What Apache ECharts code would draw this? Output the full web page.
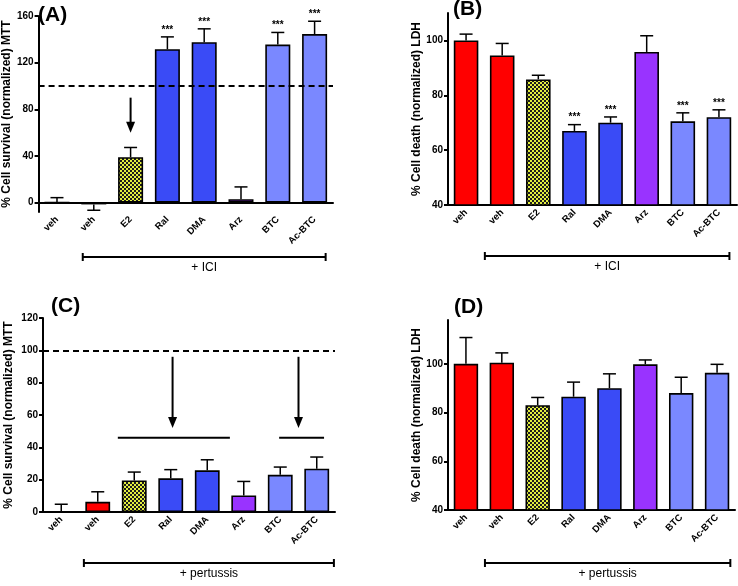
<!DOCTYPE html>
<html>
<head>
<meta charset="utf-8">
<script src="https://cdn.jsdelivr.net/npm/echarts@6/dist/echarts.min.js"></script>
<style>
  html, body { margin: 0; padding: 0; background: #fff; }
  #chart { width: 738px; height: 586px; }
</style>
</head>
<body>
<div id="chart"></div>
<script>
// ---- data ----
const categories = ["veh", "veh", "E2", "Ral", "DMA", "Arz", "BTC", "Ac-BTC"];

// (A) MTT + ICI
const meanA = [0, -1.5, 39, 131.5, 137.5, 3, 135.5, 144.5];
const semA = [4.3, 5, 8.3, 10.6, 11.5, 10.5, 10.4, 11];
const starsA = ["", "", "", "***", "***", "", "***", "***"];
const ticksA = [0, 40, 80, 120, 160];

// (B) LDH + ICI
const meanB = [100, 94.5, 85.8, 67, 70, 95.8, 70.5, 72];
const semB = [2.3, 4.4, 1.5, 2.3, 2.1, 5.9, 3.1, 2.7];
const starsB = ["", "", "", "***", "***", "", "***", "***"];
const ticksB = [40, 60, 80, 100];

// (C) MTT + pertussis
const meanC = [0, 6.3, 19.5, 20.8, 25.8, 10.2, 23, 26.8];
const semC = [4.8, 6.2, 5.2, 5.4, 6.5, 8.7, 4.8, 7.2];
const starsC = ["", "", "", "", "", "", "", ""];
const ticksC = [0, 20, 40, 60, 80, 100, 120];

// (D) LDH + pertussis
const meanD = [100, 100.5, 83, 86.5, 90, 99.8, 88, 96.3];
const semD = [10.8, 4, 3.2, 6, 5.9, 1.8, 6.5, 3.5];
const starsD = ["", "", "", "", "", "", "", ""];
const ticksD = [40, 60, 80, 100];

// annotations (x in category units, y in data units)
const arrowsA = [[2, 90, 60]];
const arrowsC = [[3.05, 96, 52], [6.5, 96, 52]];
const linesC = [[1.55, 4.62, 46], [5.97, 7.2, 46]];

const FONT = "Liberation Sans, Arial, sans-serif";

// checkered fill used for E2
function checker() {
  const c = document.createElement("canvas");
  c.width = 4;
  c.height = 4;
  const ctx = c.getContext("2d");
  ctx.fillStyle = "#e2ee40";
  ctx.fillRect(0, 0, 4, 4);
  ctx.fillStyle = "#1c1c1c";
  ctx.fillRect(0, 0, 2, 2);
  ctx.fillRect(2, 2, 2, 2);
  return { image: c, repeat: "repeat" };
}
const barColors = ["#ff0000", "#ff0000", checker(), "#3a4bf6", "#3a4bf6", "#9933ff", "#7a88ff", "#7a88ff"];

const panels = [
  {
    label: "(A)", labelPos: [38, 5],
    mean: meanA, sem: semA, stars: starsA, ticks: ticksA, min: -8, max: 160,
    yName: "% Cell survival (normalized) MTT", nameGap: 23,
    grid: { left: 34, top: 16, width: 299, height: 196 },
    refLine: 100, arrows: arrowsA, lines: [],
    bracket: { from: 0.7, to: 7.3, gap: 45, text: "+ ICI" }
  },
  {
    label: "(B)", labelPos: [453, -1],
    mean: meanB, sem: semB, stars: starsB, ticks: ticksB, min: 40, max: 110,
    yName: "% Cell death (normalized) LDH", nameGap: 25,
    grid: { left: 448, top: 13, width: 289, height: 192 },
    refLine: null, arrows: [], lines: [],
    bracket: { from: 0.52, to: 7.29, gap: 51, text: "+ ICI" }
  },
  {
    label: "(C)", labelPos: [51, 296],
    mean: meanC, sem: semC, stars: starsC, ticks: ticksC, min: 0, max: 120,
    yName: "% Cell survival (normalized) MTT", nameGap: 28,
    grid: { left: 43, top: 318, width: 292, height: 194 },
    refLine: 100, arrows: arrowsC, lines: linesC,
    bracket: { from: 0.62, to: 7.47, gap: 51, text: "+ pertussis" }
  },
  {
    label: "(D)", labelPos: [454, 297],
    mean: meanD, sem: semD, stars: starsD, ticks: ticksD, min: 40, max: 118,
    yName: "% Cell death (normalized) LDH", nameGap: 25,
    grid: { left: 448, top: 320, width: 287, height: 190 },
    refLine: null, arrows: [], lines: [],
    bracket: { from: 0.53, to: 7.37, gap: 53, text: "+ pertussis" }
  }
];

const grids = [], xAxes = [], yAxes = [], series = [], graphics = [];

panels.forEach(function (p, i) {
  grids.push(p.grid);

  xAxes.push({
    gridIndex: i,
    type: "category",
    data: categories,
    axisLine: { onZero: true, lineStyle: { color: "#000", width: 2 } },
    axisTick: { alignWithLabel: true, length: 5, lineStyle: { color: "#000", width: 2 } },
    axisLabel: { rotate: 45, interval: 0, margin: 6, color: "#000", fontFamily: FONT, fontWeight: "bold", fontSize: 9.5 }
  });

  yAxes.push({
    gridIndex: i,
    type: "value",
    min: p.min,
    max: p.max,
    name: p.yName,
    nameLocation: "middle",
    nameGap: p.nameGap,
    nameTextStyle: { color: "#000", fontFamily: FONT, fontWeight: "bold", fontSize: 12 },
    axisLine: { show: true, lineStyle: { color: "#000", width: 2 } },
    axisTick: { show: true, length: 4, customValues: p.ticks, lineStyle: { color: "#000", width: 2 } },
    axisLabel: { customValues: p.ticks, margin: 5, color: "#000", fontFamily: FONT, fontWeight: "bold", fontSize: 10 },
    splitLine: { show: false }
  });

  // bars
  series.push({
    type: "bar",
    xAxisIndex: i,
    yAxisIndex: i,
    barWidth: "68%",
    silent: true,
    itemStyle: { borderColor: "#000", borderWidth: 1.6 },
    data: p.mean.map(function (v, k) {
      return { value: v, itemStyle: { color: barColors[k] } };
    }),
    markLine: p.refLine == null ? undefined : {
      silent: true,
      symbol: "none",
      label: { show: false },
      lineStyle: { color: "#000", width: 2, type: [6, 4] },
      data: [{ yAxis: p.refLine }]
    }
  });

  // error bars (one-sided, Prism style) + significance stars
  series.push({
    type: "custom",
    xAxisIndex: i,
    yAxisIndex: i,
    silent: true,
    z: 3,
    data: p.mean.map(function (v, k) { return [k, v, p.sem[k]]; }),
    renderItem: function (params, api) {
      const k = api.value(0), v = api.value(1), e = api.value(2);
      const end = v >= 0 ? v + e : v - e;
      const a = api.coord([k, v]);
      const b = api.coord([k, end]);
      const half = 6.5;
      const kids = [
        { type: "line", shape: { x1: a[0], y1: a[1], x2: b[0], y2: b[1] }, style: { stroke: "#000", lineWidth: 1.5 } },
        { type: "line", shape: { x1: b[0] - half, y1: b[1], x2: b[0] + half, y2: b[1] }, style: { stroke: "#000", lineWidth: 1.5 } }
      ];
      const s = p.stars[params.dataIndex];
      if (s) {
        kids.push({
          type: "text",
          x: b[0], y: b[1] - 2,
          style: { text: s, fill: "#000", font: "bold 10px " + FONT, align: "center", verticalAlign: "bottom" }
        });
      }
      return { type: "group", children: kids };
    }
  });

  // arrows, bars over groups, bracket under the axis
  series.push({
    type: "custom",
    xAxisIndex: i,
    yAxisIndex: i,
    silent: true,
    z: 4,
    data: [[0, p.min]],
    renderItem: function (params, api) {
      const x0 = api.coord([0, p.min])[0];
      const bw = api.size([1, 0])[0];
      const px = function (f) { return x0 + f * bw; };
      const py = function (v) { return api.coord([0, v])[1]; };
      const kids = [];
      p.arrows.forEach(function (ar) {
        const x = px(ar[0]), y1 = py(ar[1]), y2 = py(ar[2]);
        kids.push({ type: "line", shape: { x1: x, y1: y1, x2: x, y2: y2 - 8 }, style: { stroke: "#000", lineWidth: 2 } });
        kids.push({ type: "polygon", shape: { points: [[x - 4.5, y2 - 11], [x + 4.5, y2 - 11], [x, y2]] }, style: { fill: "#000" } });
      });
      p.lines.forEach(function (ln) {
        const y = py(ln[2]);
        kids.push({ type: "line", shape: { x1: px(ln[0]), y1: y, x2: px(ln[1]), y2: y }, style: { stroke: "#000", lineWidth: 2 } });
      });
      const bt = p.bracket;
      const yb = py(p.min) + bt.gap;
      const xa = px(bt.from), xb = px(bt.to);
      kids.push({ type: "line", shape: { x1: xa, y1: yb, x2: xb, y2: yb }, style: { stroke: "#000", lineWidth: 2 } });
      kids.push({ type: "line", shape: { x1: xa, y1: yb - 4, x2: xa, y2: yb + 4 }, style: { stroke: "#000", lineWidth: 2 } });
      kids.push({ type: "line", shape: { x1: xb, y1: yb - 4, x2: xb, y2: yb + 4 }, style: { stroke: "#000", lineWidth: 2 } });
      kids.push({
        type: "text",
        x: (xa + xb) / 2, y: yb + 5,
        style: { text: bt.text, fill: "#000", font: "12px " + FONT, align: "center", verticalAlign: "top" }
      });
      return { type: "group", children: kids };
    }
  });

  graphics.push({
    type: "text",
    left: p.labelPos[0],
    top: p.labelPos[1],
    style: { text: p.label, fill: "#000", font: "bold 21px " + FONT }
  });
});

const chart = echarts.init(document.getElementById("chart"));
chart.setOption({
  backgroundColor: "#fff",
  animation: false,
  grid: grids,
  xAxis: xAxes,
  yAxis: yAxes,
  series: series,
  graphic: graphics
});
</script>
</body>
</html>
